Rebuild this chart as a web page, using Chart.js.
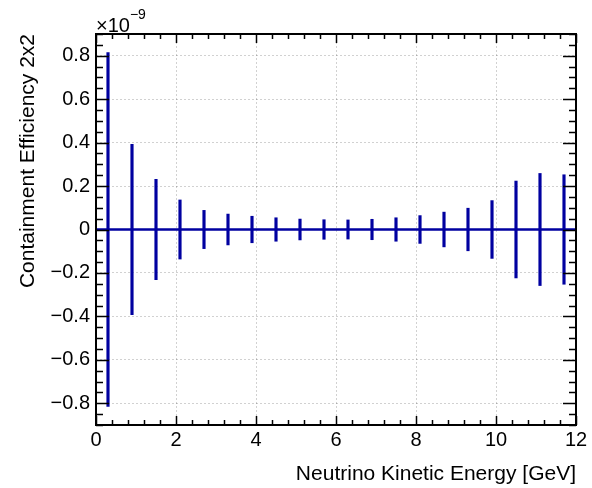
<!DOCTYPE html>
<html>
<head>
<meta charset="utf-8">
<script src="https://cdn.jsdelivr.net/npm/chart.js@4.4.1/dist/chart.umd.min.js"></script>
<style>
  html, body { margin: 0; padding: 0; background: #ffffff; }
  #wrap { width: 592px; height: 488px; }
</style>
</head>
<body>
<div id="wrap"><canvas id="effChart" width="592" height="488"></canvas></div>
<script>
/* ==========================
   CONTAINMENT EFFICIENCY 2x2
========================== */

// bin centres [GeV], bin width 0.6 GeV
const binCenters = [0.3, 0.9, 1.5, 2.1, 2.7, 3.3, 3.9, 4.5, 5.1, 5.7,
                    6.3, 6.9, 7.5, 8.1, 8.7, 9.3, 9.9, 10.5, 11.1, 11.7];
const binWidth = 0.6;

// efficiency values and their errors, in units of 1e-9
const effValues = [0, 0, 0, 0, 0, 0, 0, 0, 0, 0,
                   0, 0, 0, 0, 0, 0, 0, 0, 0, 0];
const effErrors = [0.815, 0.392, 0.231, 0.136, 0.088, 0.071, 0.061, 0.054, 0.048, 0.045,
                   0.044, 0.047, 0.054, 0.064, 0.080, 0.098, 0.133, 0.223, 0.258, 0.252];

const xTickValues = [0, 2, 4, 6, 8, 10, 12];
const yTickValues = [-0.8, -0.6, -0.4, -0.2, 0, 0.2, 0.4, 0.6, 0.8];

const histColor = "#0000a0";
const fontFamily = "'Liberation Sans', Arial, Helvetica, sans-serif";

// vertical error bars as floating bars
const errorBars = binCenters.map((c, i) => ({
  x: c,
  y: [effValues[i] - effErrors[i], effValues[i] + effErrors[i]]
}));

// horizontal bin extent (x error), one segment per bin
const binSegments = binCenters.flatMap((c, i) => [
  { x: c - binWidth / 2, y: effValues[i] },
  { x: c + binWidth / 2, y: effValues[i] }
]);

// frame, inner ticks on all sides and the exponent label
const frameTicks = {
  id: "frameTicks",
  afterDraw(chart) {
    const { ctx, chartArea: a, scales } = chart;
    const xs = scales.x;
    const ys = scales.y;
    ctx.save();
    ctx.strokeStyle = "#000000";
    ctx.lineWidth = 1.5;

    ctx.beginPath();
    // x ticks, major every 2, minor every 0.4
    for (let k = 0; k <= 30; k++) {
      const v = k * 0.4;
      const px = Math.round(xs.getPixelForValue(v)) + 0.5;
      const len = k % 5 === 0 ? 9 : 5;
      ctx.moveTo(px, a.bottom);
      ctx.lineTo(px, a.bottom - len);
      ctx.moveTo(px, a.top);
      ctx.lineTo(px, a.top + len);
    }
    // y ticks, major every 0.2, minor every 0.05
    for (let k = -18; k <= 18; k++) {
      const v = k * 0.05;
      const py = Math.round(ys.getPixelForValue(v)) + 0.5;
      const len = k % 4 === 0 ? 13 : 7;
      ctx.moveTo(a.left, py);
      ctx.lineTo(a.left + len, py);
      ctx.moveTo(a.right, py);
      ctx.lineTo(a.right - len, py);
    }
    ctx.stroke();

    ctx.lineWidth = 2;
    ctx.strokeRect(a.left, a.top, a.right - a.left, a.bottom - a.top);

    ctx.fillStyle = "#000000";
    ctx.textBaseline = "alphabetic";
    ctx.textAlign = "left";
    ctx.font = "20px " + fontFamily;
    ctx.fillText("\u00d710", a.left, a.top - 2);
    const w = ctx.measureText("\u00d710").width;
    ctx.font = "14px " + fontFamily;
    ctx.fillText("\u22129", a.left + w, a.top - 15);
    ctx.restore();
  }
};

new Chart(document.getElementById("effChart"), {
  data: {
    datasets: [
      {
        type: "bar",
        data: errorBars,
        backgroundColor: histColor,
        borderWidth: 0,
        barThickness: 2.5,
        order: 1
      },
      {
        type: "line",
        data: binSegments,
        borderColor: histColor,
        borderWidth: 2.5,
        pointRadius: 0,
        tension: 0,
        fill: false,
        order: 0
      }
    ]
  },
  options: {
    responsive: false,
    animation: false,
    layout: {
      padding: { top: 34, right: 16, bottom: 0, left: 0 }
    },
    plugins: {
      legend: { display: false },
      tooltip: { enabled: false }
    },
    scales: {
      x: {
        type: "linear",
        min: 0,
        max: 12,
        offset: false,
        afterBuildTicks: scale => {
          scale.ticks = xTickValues.map(v => ({ value: v }));
        },
        afterFit: scale => { scale.height = 63; },
        grid: {
          offset: false,
          drawTicks: false,
          color: "rgba(0, 0, 0, 0.18)",
          lineWidth: 1
        },
        border: { display: false, dash: [2, 2] },
        ticks: {
          color: "#000000",
          padding: 3,
          maxRotation: 0,
          font: { family: fontFamily, size: 20 },
          callback: value => String(value)
        },
        title: {
          display: true,
          text: "Neutrino Kinetic Energy [GeV]",
          align: "end",
          color: "#000000",
          padding: { top: 0, bottom: 1 },
          font: { family: fontFamily, size: 21 }
        }
      },
      y: {
        type: "linear",
        min: -0.9,
        max: 0.9,
        afterBuildTicks: scale => {
          scale.ticks = yTickValues.map(v => ({ value: v }));
        },
        afterFit: scale => { scale.width = 96; },
        grid: {
          drawTicks: false,
          color: "rgba(0, 0, 0, 0.18)",
          lineWidth: 1
        },
        border: { display: false, dash: [2, 2] },
        ticks: {
          color: "#000000",
          padding: 6,
          font: { family: fontFamily, size: 20 },
          callback: value => {
            const v = Math.round(value * 10) / 10;
            if (v === 0) return "0";
            return (v < 0 ? "\u2212" : "") + Math.abs(v).toFixed(1);
          }
        },
        title: {
          display: true,
          text: "Containment Efficiency 2x2",
          align: "end",
          color: "#000000",
          padding: { top: 16, bottom: 0 },
          font: { family: fontFamily, size: 21 }
        }
      }
    }
  },
  plugins: [frameTicks]
});
</script>
</body>
</html>
